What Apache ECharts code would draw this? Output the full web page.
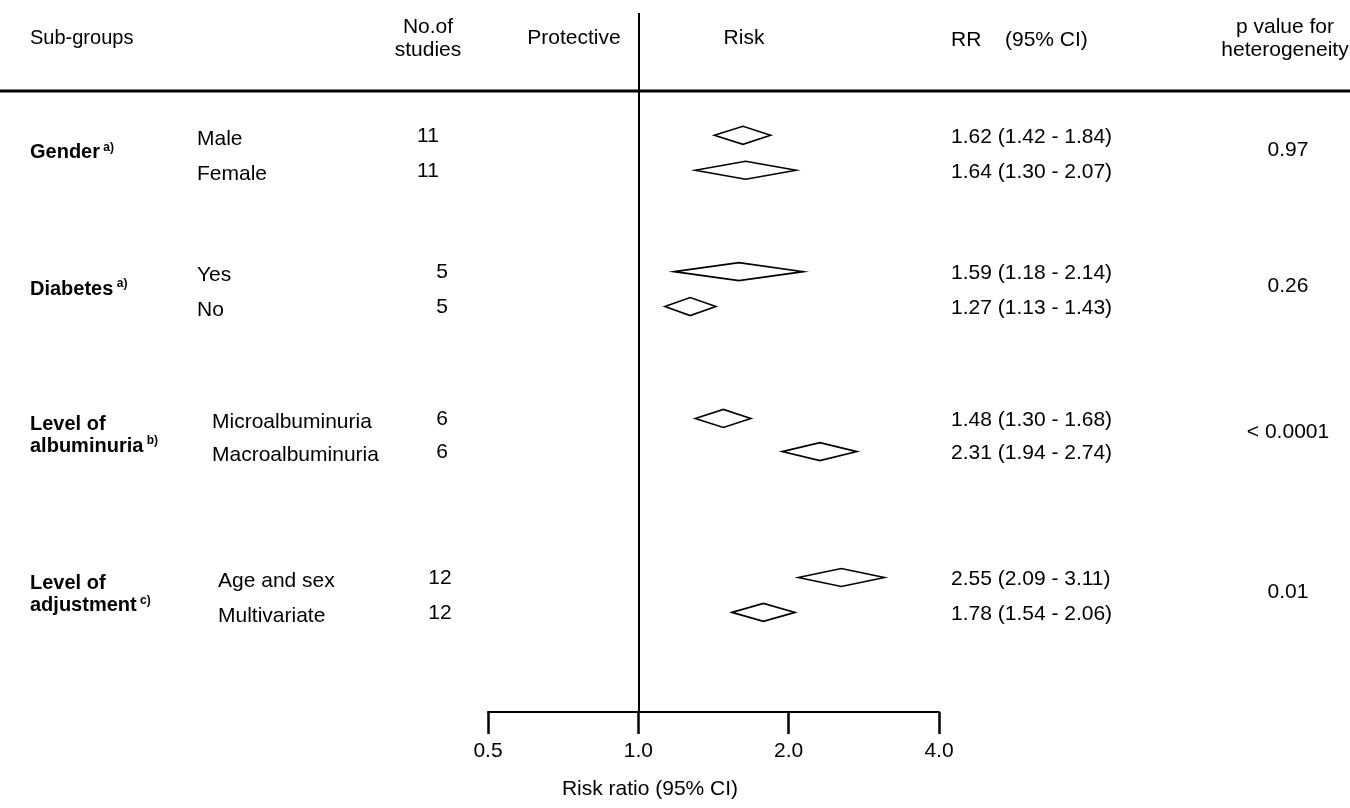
<!DOCTYPE html>
<html><head><meta charset="utf-8">
<script src="https://cdn.jsdelivr.net/npm/echarts@6/dist/echarts.min.js"></script>
<style>html,body{margin:0;padding:0;background:#fff}#c{width:1350px;height:808px}</style>
</head><body><div id="c"></div>
<script>
// ---------- data ----------
const groupNames = ['Gender', 'Diabetes', 'Level of\nalbuminuria', 'Level of\nadjustment'];
const groupNotes = ['a)', 'a)', 'b)', 'c)'];
const pValues = ['0.97', '0.26', '< 0.0001', '0.01'];
const subgroups = ['Male', 'Female', 'Yes', 'No', 'Microalbuminuria', 'Macroalbuminuria', 'Age and sex', 'Multivariate'];
const rowGroup = [0, 0, 1, 1, 2, 2, 3, 3];
const nStudies = [11, 11, 5, 5, 6, 6, 12, 12];
const rr = [1.62, 1.64, 1.59, 1.27, 1.48, 2.31, 2.55, 1.78];
const ciLow = [1.42, 1.30, 1.18, 1.13, 1.30, 1.94, 2.09, 1.54];
const ciHigh = [1.84, 2.07, 2.14, 1.43, 1.68, 2.74, 3.11, 2.06];
const rrText = ['1.62 (1.42 - 1.84)', '1.64 (1.30 - 2.07)', '1.59 (1.18 - 2.14)', '1.27 (1.13 - 1.43)',
                '1.48 (1.30 - 1.68)', '2.31 (1.94 - 2.74)', '2.55 (2.09 - 3.11)', '1.78 (1.54 - 2.06)'];
const xTicks = [0.5, 1.0, 2.0, 4.0];

// ---------- layout ----------
const FONT = '"Liberation Sans", Arial, Helvetica, sans-serif';
const FS = 21;
const ROW_POS = [3.5, 4.5, 7.4, 8.4, 11.6, 12.55, 16.15, 17.15]; // y-axis slots (row units)
const SUB_X = [197, 197, 212, 218];
const N_X = [428, 442, 442, 440];
const GROUP_X = 30, RR_X = 951, P_X = 1288;
const DIAMOND_H = 9;

const rowData = rr.map((v, i) => [v, ciLow[i], ciHigh[i], ROW_POS[i]]);
const groupData = groupNames.map((g, k) => {
  const ys = ROW_POS.filter((_, i) => rowGroup[i] === k);
  return [1, (ys[0] + ys[ys.length - 1]) / 2];
});

function txt(text, x, y, align) {
  return { type: 'text', silent: true,
    style: { text: text, x: x, y: y, fill: '#000', fontSize: FS, fontFamily: FONT, align: align || 'left', verticalAlign: 'middle' } };
}

function renderRow(params, api) {
  const i = params.dataIndex;
  const g = rowGroup[i];
  const yv = api.value(3);
  const c = api.coord([api.value(0), yv]);
  const lo = api.coord([api.value(1), yv]);
  const hi = api.coord([api.value(2), yv]);
  const y = c[1];
  return { type: 'group', children: [
    { type: 'polygon', shape: { points: [[lo[0], y], [c[0], y - DIAMOND_H], [hi[0], y], [c[0], y + DIAMOND_H]] },
      style: { fill: '#fff', stroke: '#000', lineWidth: 1.6 } },
    txt(subgroups[i], SUB_X[g], y + 4),
    txt(String(nStudies[i]), N_X[g], y + 1, 'center'),
    txt(rrText[i], RR_X, y + 2)
  ]};
}

function renderGroup(params, api) {
  const k = params.dataIndex;
  const y = api.coord([1, api.value(1)])[1];
  const lines = groupNames[k].split('\n');
  const rich = lines.map((l, j) => j === lines.length - 1 ? '{b|' + l + '} {s|' + groupNotes[k] + '}' : '{b|' + l + '}').join('\n');
  const label = { type: 'text', silent: true, style: {
    text: rich, x: GROUP_X, y: y, align: 'left', verticalAlign: 'middle', fill: '#000', fontFamily: FONT,
    rich: {
      b: { fontSize: 20, fontWeight: 'bold', fontFamily: FONT, lineHeight: 22, fill: '#000' },
      s: { fontSize: 12, fontWeight: 'bold', fontFamily: FONT, lineHeight: 22, verticalAlign: 'top', fill: '#000' }
    } } };
  return { type: 'group', children: [label, txt(pValues[k], P_X, y - 3, 'center')] };
}

const chart = echarts.init(document.getElementById('c'), null, { renderer: 'canvas' });
const hdr = (text, x, y, align, extra) => ({ type: 'text', silent: true,
  style: Object.assign({ text: text, x: x, y: y, fontSize: FS, fontFamily: FONT, fill: '#000', align: align, verticalAlign: 'middle' }, extra || {}) });
chart.setOption({
  animation: false,
  backgroundColor: '#fff',
  grid: { left: 488, right: 411, top: 13, bottom: 96 },
  xAxis: {
    type: 'log', logBase: 2, min: 0.5, max: 4, position: 'bottom',
    splitLine: { show: false }, minorTick: { show: false },
    axisLine: { show: true, onZero: false, lineStyle: { color: '#000', width: 2 } },
    axisTick: { show: true, length: 22, customValues: xTicks, lineStyle: { color: '#000', width: 2.5 } },
    axisLabel: { color: '#000', fontSize: FS, fontFamily: FONT, margin: 29, customValues: xTicks,
      formatter: v => Number(v).toFixed(1) }
  },
  yAxis: { type: 'value', min: 0, max: 20, inverse: true, show: false },
  graphic: [
    { type: 'line', silent: true, shape: { x1: 0, y1: 91, x2: 1350, y2: 91 }, style: { stroke: '#000', lineWidth: 3 } },
    hdr('Sub-groups', 30, 38, 'left', { fontSize: 20 }),
    hdr('No.of\nstudies', 428, 39, 'center', { lineHeight: 23 }),
    hdr('Protective', 574, 38, 'center'),
    hdr('Risk', 744, 38, 'center'),
    hdr('RR', 951, 40, 'left'),
    hdr('(95% CI)', 1005, 40, 'left'),
    hdr('p value for\nheterogeneity', 1285, 39, 'center', { lineHeight: 23 }),
    hdr('Risk ratio (95% CI)', 650, 789, 'center')
  ],
  series: [
    { type: 'custom', name: 'rows', renderItem: renderRow, data: rowData, encode: { x: [0, 1, 2], y: 3 }, clip: false },
    { type: 'custom', name: 'groups', renderItem: renderGroup, data: groupData, encode: { x: 0, y: 1 }, clip: false,
      markLine: { silent: true, symbol: 'none', label: { show: false },
        lineStyle: { color: '#000', width: 2, type: 'solid' }, data: [{ xAxis: 1 }] } }
  ]
});
</script>
</body></html>
